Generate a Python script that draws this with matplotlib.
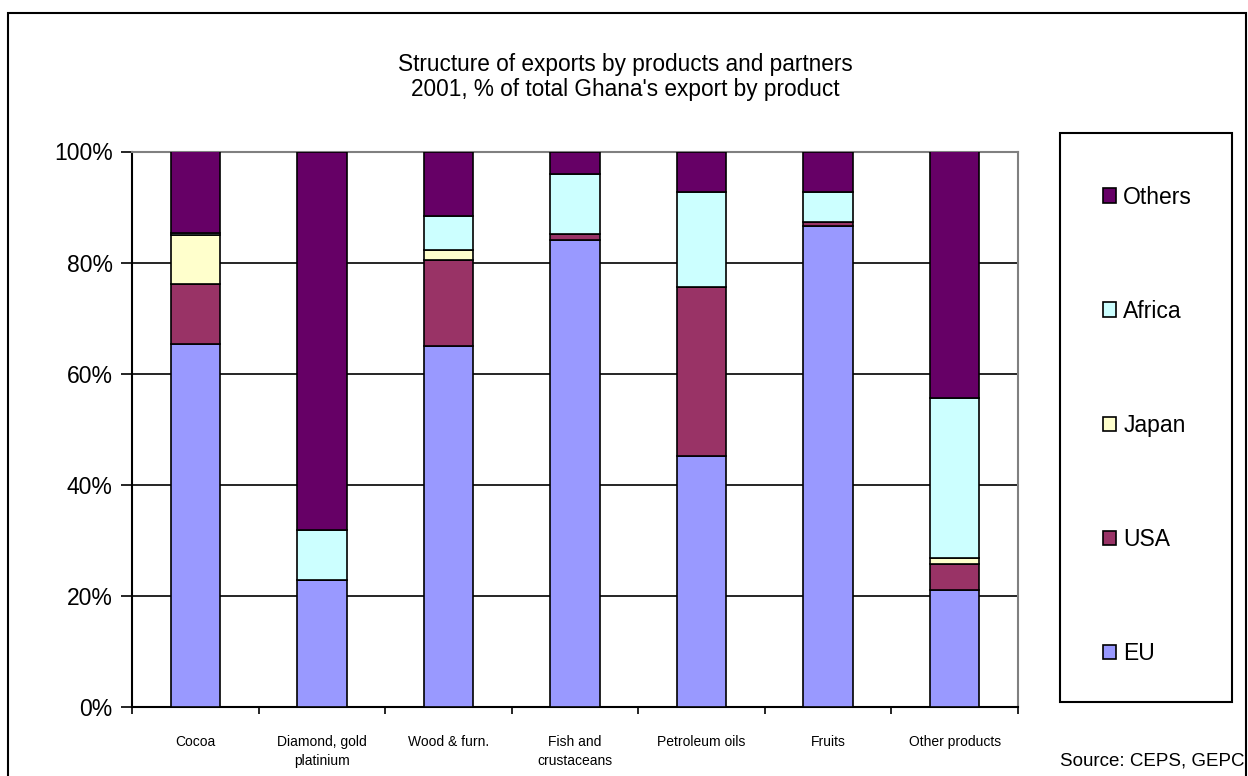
import numpy as np
import matplotlib
matplotlib.use("Agg")
import matplotlib.pyplot as plt
from matplotlib.patches import Rectangle, Patch
from matplotlib.ticker import PercentFormatter

plt.rcParams['font.family'] = ['Liberation Sans', 'DejaVu Sans']

products = ["Cocoa", "Diamond, gold\nplatinium", "Wood & furn.", "Fish and\ncrustaceans",
            "Petroleum oils", "Fruits", "Other products"]
partners = ["EU", "USA", "Japan", "Africa", "Others"]
colors = ["#9999FF", "#993366", "#FFFFCC", "#CCFFFF", "#660066"]

# shares in % of each product's exports
eu = [65.3, 22.8, 65.0, 84.1, 45.2, 86.6, 21.0]
usa = [10.9, 0.0, 15.5, 1.1, 30.4, 0.7, 4.7]
japan = [8.7, 0.0, 1.8, 0.0, 0.0, 0.0, 1.2]
africa = [0.4, 9.0, 6.1, 10.8, 17.1, 5.4, 28.8]
others = [14.7, 68.2, 11.6, 4.0, 7.3, 7.3, 44.3]
shares = [eu, usa, japan, africa, others]

W, H = 1248, 776
fig = plt.figure(figsize=(W / 100, H / 100), dpi=100)
# outer chart frame
fig.patches.append(Rectangle((8 / W, -0.01), (1246 - 8) / W, 1 - 13 / H + 0.01,
                             transform=fig.transFigure, fill=False, edgecolor="black",
                             linewidth=1.5, zorder=0))

ax = fig.add_axes([132 / W, 1 - 707 / H, (1018 - 132) / W, (707 - 151.5) / H])

x = np.arange(len(products))
bottom = np.zeros(len(products))
for vals, name, col in zip(shares, partners, colors):
    vals = np.array(vals)
    ax.bar(x, vals, 0.39, bottom=bottom, color=col, edgecolor="black",
           linewidth=1.2, label=name, zorder=3)
    bottom += vals

ax.set_xlim(-0.5, len(products) - 0.5)
ax.set_ylim(0, 100)
ax.set_yticks(np.arange(0, 101, 20))
ax.yaxis.set_major_formatter(PercentFormatter(decimals=0))
ax.tick_params(axis="y", labelsize=16.5, length=8, width=1.2, pad=6)
ax.set_xticks(x)
ax.set_xticklabels(products, fontsize=10, linespacing=1.45)
ax.tick_params(axis="x", length=0, pad=20)
ax.set_xticks(np.arange(-0.5, len(products)), minor=True)
ax.tick_params(axis="x", which="minor", length=5, width=1.2)
ax.grid(axis="y", color="black", linewidth=1.2, zorder=1)

for s in ["left", "bottom"]:
    ax.spines[s].set_color("black")
    ax.spines[s].set_linewidth(1.5)
for s in ["top", "right"]:
    ax.spines[s].set_color("#808080")
    ax.spines[s].set_linewidth(1.5)

fig.text(625 / W, 1 - 77 / H,
         "Structure of exports by products and partners\n2001, % of total Ghana's export by product",
         ha="center", va="center", fontsize=16.3, linespacing=1.15)

# legend box and entries
fig.patches.append(Rectangle((1060 / W, 1 - 702 / H), (1232 - 1060) / W, (702 - 133) / H,
                             transform=fig.transFigure, fill=False, edgecolor="black",
                             linewidth=1.5, zorder=2))
handles = [Patch(facecolor=c, edgecolor="black", linewidth=1.2) for c in colors][::-1]
leg = fig.legend(handles, partners[::-1], loc="upper left",
                 bbox_to_anchor=(1103 / W, 1 - 185.5 / H),
                 fontsize=16.5, frameon=False,
                 handlelength=0.58, handleheight=0.58, handletextpad=0.3,
                 labelspacing=3.98, borderpad=0, borderaxespad=0)

fig.text(1244 / W, 1 - 761 / H, "Source: CEPS, GEPC", ha="right", va="center", fontsize=13.5)

fig.savefig("out.png", dpi=100)
